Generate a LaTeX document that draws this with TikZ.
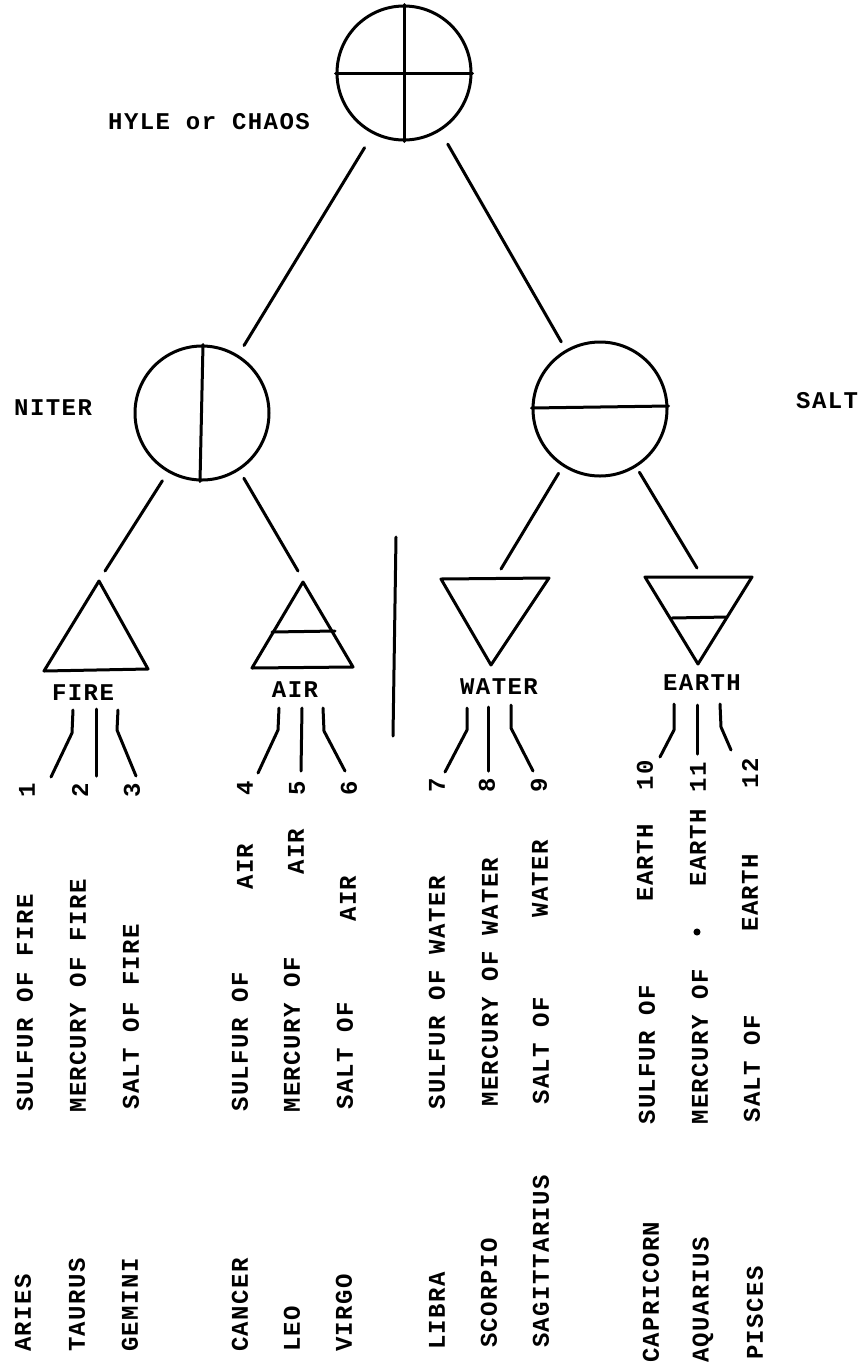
\documentclass[tikz,border=0pt]{standalone}
\usepackage{fontspec}
\setmainfont{Liberation Mono}[BoldFont=*,LetterSpace=6]
\newfontfamily\plotfont{Liberation Mono Bold}[LetterSpace=6]
\tikzset{
    orb/.style={draw, circle, minimum size=134pt, inner sep=0pt, line width=3pt},
    stroke/.style={line width=3pt, line cap=round, line join=round},
    caption/.style={inner sep=0pt, font=\plotfont\fontsize{24}{24}\selectfont},
    upright/.style={caption, rotate=90, anchor=west},
}
\begin{document}
\begin{tikzpicture}[x=1pt, y=-1pt]
    \useasboundingbox (0, 0) rectangle (860, 1366);

    \node[orb] (hyle) at (404, 73) {};
    \draw[stroke] (hyle.north) -- (hyle.south);
    \draw[stroke] (hyle.west) -- (hyle.east);
    \node[caption, anchor=west] (hylename) at (108, 122) {HYLE or CHAOS};

    \node[orb] (niter) at (202, 413) {};
    \draw[stroke] ([xshift=1pt]niter.north) -- ([xshift=-2pt]niter.south);
    \node[caption, anchor=west] (nitername) at (14, 408) {NITER};

    \node[orb] (salt) at (600, 409) {};
    \draw[stroke] ([yshift=1pt]salt.west) -- ([yshift=3pt]salt.east);
    \node[caption, anchor=west] (saltname) at (796, 401) {SALT};

    \draw[stroke, shorten <=16pt, shorten >=11pt] (hyle.243) -- (niter.58);
    \draw[stroke, shorten <=15pt, shorten >=9pt] (hyle.302) -- (salt.120);

    % triangles
    \coordinate (firetip) at (99, 581);
    \coordinate (airtip) at (303, 582);
    \coordinate (watertip) at (491, 665);
    \coordinate (earthtip) at (698, 664);
    \draw[stroke] (firetip) -- (44, 671) -- (148, 669) -- cycle;
    \draw[stroke] (airtip) -- (252, 668) -- (353, 667) -- cycle;
    \draw[stroke] (272, 632) -- (335, 631);
    \draw[stroke] (watertip) -- (441, 579) -- (549, 578) -- cycle;
    \draw[stroke] (earthtip) -- (645, 577) -- (752, 577) -- cycle;
    \draw[stroke] (672, 618) -- (727, 617);

    \coordinate (fireup) at (105, 571);
    \coordinate (airup) at (298, 571);
    \coordinate (waterup) at (501, 569);
    \coordinate (earthup) at (697, 568);
    \draw[stroke, shorten <=10pt] (niter.240) -- (fireup);
    \draw[stroke, shorten <=9pt] (niter.303) -- (airup);
    \draw[stroke, shorten <=8pt] (salt.237) -- (waterup);
    \draw[stroke, shorten <=6pt] (salt.302) -- (earthup);

    \node[caption] (fire) at (83, 693) {FIRE};
    \node[caption] (air) at (295, 690) {AIR};
    \node[caption] (water) at (499, 687) {WATER};
    \node[caption] (earth) at (702, 683) {EARTH};

    % divider
    \coordinate (midtop) at (396, 537);
    \coordinate (midend) at (393, 736);
    \draw[stroke] (midtop) -- (midend);

    % numbers
    \node[caption, rotate=90] (n1) at (27, 790) {1};
    \node[caption, rotate=90] (n2) at (80, 790) {2};
    \node[caption, rotate=90] (n3) at (132, 790) {3};
    \node[caption, rotate=90] (n4) at (245, 788) {4};
    \node[caption, rotate=90] (n5) at (297, 788) {5};
    \node[caption, rotate=90] (n6) at (349, 788) {6};
    \node[caption, rotate=90] (n7) at (437, 785) {7};
    \node[caption, rotate=90] (n8) at (487, 785) {8};
    \node[caption, rotate=90] (n9) at (539, 785) {9};
    \node[caption, rotate=90] (n10) at (645, 775) {10};
    \node[caption, rotate=90] (n11) at (698, 777) {11};
    \node[caption, rotate=90] (n12) at (750, 773) {12};

    \draw[stroke] ([xshift=-10pt, yshift=-17pt]fire.center) -- (72, 733) -- ([xshift=24pt, yshift=13pt]n1.center);
    \draw[stroke] ([xshift=13pt, yshift=-16pt]fire.center) -- ([xshift=16pt, yshift=14pt]n2.center);
    \draw[stroke] ([xshift=35pt, yshift=-17pt]fire.center) -- (117, 730) -- ([xshift=4pt, yshift=14pt]n3.center);

    \draw[stroke] ([xshift=-16pt, yshift=-18pt]air.center) -- (278, 730) -- ([xshift=13pt, yshift=15pt]n4.center);
    \draw[stroke] ([xshift=7pt, yshift=-18pt]air.center) -- ([xshift=4pt, yshift=17pt]n5.center);
    \draw[stroke] ([xshift=28pt, yshift=-18pt]air.center) -- (324, 731) -- ([xshift=-4pt, yshift=17pt]n6.center);

    \draw[stroke] ([xshift=-32pt, yshift=-21pt]water.center) -- (467, 730) -- ([xshift=8pt, yshift=13pt]n7.center);
    \draw[stroke] ([xshift=-11pt, yshift=-20pt]water.center) -- ([xshift=1pt, yshift=14pt]n8.center);
    \draw[stroke] ([xshift=12pt, yshift=-18pt]water.center) -- (511, 728) -- ([xshift=-6pt, yshift=14pt]n9.center);

    \draw[stroke] ([xshift=-28pt, yshift=-21pt]earth.center) -- (674, 730) -- ([xshift=15pt, yshift=18pt]n10.center);
    \draw[stroke] ([xshift=-5pt, yshift=-22pt]earth.center) -- ([xshift=-1pt, yshift=23pt]n11.center);
    \draw[stroke] ([xshift=18pt, yshift=-21pt]earth.center) -- (721, 727) -- ([xshift=-19pt, yshift=23pt]n12.center);

    % principles
    \node[upright] (sulfire) at (25, 1112) {SULFUR OF FIRE};
    \node[upright] (merfire) at (78, 1113) {MERCURY OF FIRE};
    \node[upright] (salfire) at (131, 1110) {SALT OF FIRE};

    \node[upright] (sulair) at (240, 1112) {SULFUR OF};
    \node[upright] (sulairb) at (245, 890) {AIR};
    \node[upright] (merair) at (292, 1113) {MERCURY OF};
    \node[upright] (merairb) at (296, 875) {AIR};
    \node[upright] (salair) at (345, 1110) {SALT OF};
    \node[upright] (salairb) at (348, 922) {AIR};

    \node[upright] (sulwater) at (437, 1110) {SULFUR OF WATER};
    \node[upright] (merwater) at (490, 1107) {MERCURY OF WATER};
    \node[upright] (salwater) at (541, 1105) {SALT OF};
    \node[upright] (salwaterb) at (540, 918) {WATER};

    \node[upright] (sulearth) at (647, 1125) {SULFUR OF};
    \node[upright] (sulearthb) at (645, 902) {EARTH};
    \node[upright] (merearth) at (700, 1125) {MERCURY OF};
    \node[circle, fill, inner sep=2.5pt] (merdot) at (697, 932) {};
    \node[upright] (merearthb) at (698, 887) {EARTH};
    \node[upright] (salearth) at (752, 1123) {SALT OF};
    \node[upright] (salearthb) at (750, 932) {EARTH};

    % signs
    \node[upright] (aries) at (23, 1352) {ARIES};
    \node[upright] (taurus) at (77, 1352) {TAURUS};
    \node[upright] (gemini) at (130, 1352) {GEMINI};
    \node[upright] (cancer) at (240, 1352) {CANCER};
    \node[upright] (leo) at (292, 1352) {LEO};
    \node[upright] (virgo) at (344, 1352) {VIRGO};
    \node[upright] (libra) at (437, 1350) {LIBRA};
    \node[upright] (scorpio) at (489, 1348) {SCORPIO};
    \node[upright] (sagittarius) at (541, 1348) {SAGITTARIUS};
    \node[upright] (capricorn) at (651, 1363) {CAPRICORN};
    \node[upright] (aquarius) at (703, 1363) {AQUARIUS};
    \node[upright] (pisces) at (755, 1360) {PISCES};
\end{tikzpicture}
\end{document}
